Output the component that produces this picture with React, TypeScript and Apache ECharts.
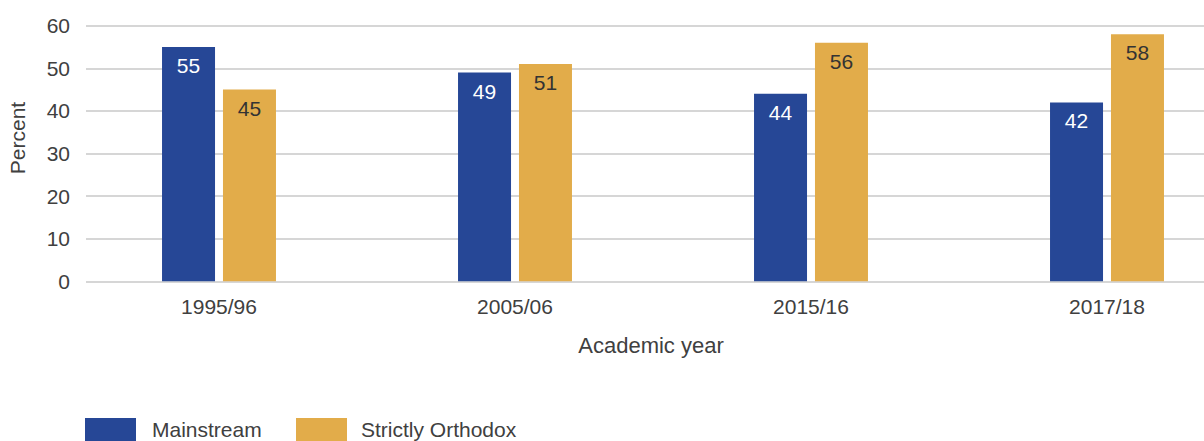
import React, { useEffect, useRef } from "react";
import * as echarts from "echarts";

const categories = ["1995/96", "2005/06", "2015/16", "2017/18"];
const mainstream = [55, 49, 44, 42];
const orthodox = [45, 51, 56, 58];
const yTicks = { min: 0, max: 60, interval: 10 };

const BLUE = "#264796";
const GOLD = "#e2ac4a";
const TEXT = "#404040";
const FONT = "'Liberation Sans', Arial, sans-serif";

export default function App() {
  const ref = useRef<HTMLDivElement>(null);
  useEffect(() => {
    if (!ref.current) return;
    const chart = echarts.init(ref.current, null, { renderer: "svg" });
    const gridTop = 25.7;
    const gridBottom = 441 - 281.3;
    chart.setOption({
      animation: false,
      textStyle: { fontFamily: FONT, color: TEXT },
      grid: [
        { left: 86, width: 1118, top: gridTop, bottom: gridBottom },
        { left: 71, width: 1184, top: gridTop, bottom: gridBottom },
      ],
      xAxis: [
        { type: "value", gridIndex: 0, show: false, min: 0, max: 1 },
        {
          type: "category",
          gridIndex: 1,
          data: categories,
          axisLine: { show: false },
          axisTick: { show: false },
          axisLabel: { fontSize: 21, color: TEXT, fontFamily: FONT, margin: 15 },
        },
      ],
      yAxis: [
        {
          type: "value",
          gridIndex: 0,
          min: yTicks.min,
          max: yTicks.max,
          interval: yTicks.interval,
          axisLine: { show: false },
          axisTick: { show: false },
          axisLabel: { fontSize: 21, color: TEXT, fontFamily: FONT, margin: 16 },
          splitLine: { lineStyle: { color: "#c8c8c8", width: 1.5 } },
        },
        {
          type: "value",
          gridIndex: 1,
          min: yTicks.min,
          max: yTicks.max,
          interval: yTicks.interval,
          show: false,
          splitLine: { show: false },
        },
      ],
      legend: [
        {
          data: ["Mainstream"],
          left: 85,
          top: 418,
          padding: 0,
          itemWidth: 51,
          itemHeight: 23,
          icon: "rect",
          textStyle: { fontSize: 21, color: TEXT, fontFamily: FONT, padding: [0, 0, 0, 11] },
          selectedMode: false,
        },
        {
          data: ["Strictly Orthodox"],
          left: 296,
          top: 418,
          padding: 0,
          itemWidth: 51,
          itemHeight: 23,
          icon: "rect",
          textStyle: { fontSize: 21, color: TEXT, fontFamily: FONT, padding: [0, 0, 0, 9] },
          selectedMode: false,
        },
      ],
      graphic: [
        {
          type: "text",
          x: 651,
          y: 345,
          style: {
            text: "Academic year",
            fontSize: 22,
            fill: TEXT,
            fontFamily: FONT,
            textAlign: "center",
            textVerticalAlign: "middle",
          },
        },
        {
          type: "text",
          x: 17.5,
          y: 138,
          rotation: Math.PI / 2,
          style: {
            text: "Percent",
            fontSize: 21,
            fill: TEXT,
            fontFamily: FONT,
            textAlign: "center",
            textVerticalAlign: "middle",
          },
        },
      ],
      series: [
        {
          name: "Mainstream",
          type: "bar",
          xAxisIndex: 1,
          yAxisIndex: 1,
          data: mainstream,
          barWidth: 53,
          barGap: "15%",
          itemStyle: { color: BLUE },
          label: {
            show: true,
            position: "insideTop",
            distance: 8,
            fontSize: 21,
            color: "#ffffff",
            fontFamily: FONT,
          },
        },
        {
          name: "Strictly Orthodox",
          type: "bar",
          xAxisIndex: 1,
          yAxisIndex: 1,
          data: orthodox,
          barWidth: 53,
          barGap: "15%",
          itemStyle: { color: GOLD },
          label: {
            show: true,
            position: "insideTop",
            distance: 8,
            fontSize: 21,
            color: "#333333",
            fontFamily: FONT,
          },
        },
      ],
    });
    return () => chart.dispose();
  }, []);
  return (
    <div
      style={{
        position: "fixed",
        left: 0,
        top: 0,
        width: 1204,
        height: 441,
        overflow: "hidden",
        background: "#fff",
      }}
    >
      <div ref={ref} style={{ width: 1264, height: 441 }} />
    </div>
  );
}
